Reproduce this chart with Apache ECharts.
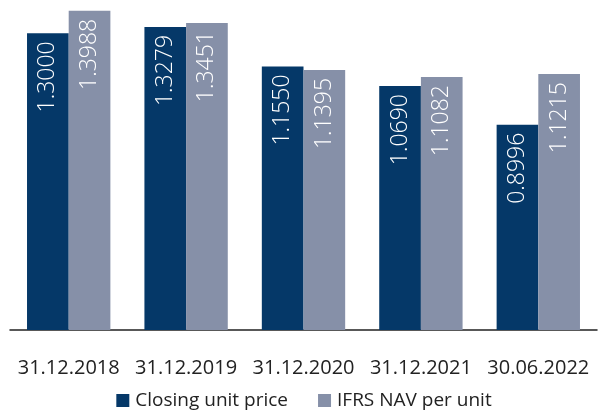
<!DOCTYPE html>
<html><head><meta charset="utf-8">
<script src="https://cdn.jsdelivr.net/npm/echarts@6/dist/echarts.min.js"></script>
<style>html,body{margin:0;padding:0;background:#fff}#c{width:608px;height:410px}</style>
</head><body><div id="c"></div>
<script>
const categories = ['31.12.2018','31.12.2019','31.12.2020','31.12.2021','30.06.2022'];
const closingPrice = [1.3000, 1.3279, 1.1550, 1.0690, 0.8996];
const navPerUnit = [1.3988, 1.3451, 1.1395, 1.1082, 1.1215];
const seriesNames = ['Closing unit price', 'IFRS NAV per unit'];
const FONT = '"Open Sans", "Noto Sans", sans-serif';
const chart = echarts.init(document.getElementById('c'));
const lbl = {
  show: true, position: 'insideTop', rotate: 90, align: 'right', verticalAlign: 'middle',
  distance: 8, color: '#fff', fontFamily: FONT, fontWeight: 300, fontSize: 23,
  formatter: p => p.value.toFixed(4)
};
chart.setOption({
  animation: false,
  grid: {left: 10, right: 11, top: 10.5, bottom: 80, containLabel: false},
  legend: {
    top: 386, left: 'center', itemWidth: 13, itemHeight: 13, itemGap: 30, icon: 'rect',
    textStyle: {fontFamily: FONT, fontSize: 19, color: '#222', padding: [0,0,0,1]},
    data: seriesNames
  },
  xAxis: {
    type: 'category', data: categories,
    axisLine: {lineStyle: {color: '#222', width: 1.5}},
    axisTick: {show: false},
    axisLabel: {fontFamily: FONT, fontSize: 20, color: '#222', margin: 28, interval: 0}
  },
  yAxis: {type: 'value', min: 0, max: 1.4, show: false, splitLine: {show: false}},
  series: [
    {name: seriesNames[0], type: 'bar', data: closingPrice, barGap: 0, barCategoryGap: '29%',
     itemStyle: {color: '#053868'}, label: lbl},
    {name: seriesNames[1], type: 'bar', data: navPerUnit,
     itemStyle: {color: '#8690a8'}, label: lbl}
  ]
});
</script></body></html>
